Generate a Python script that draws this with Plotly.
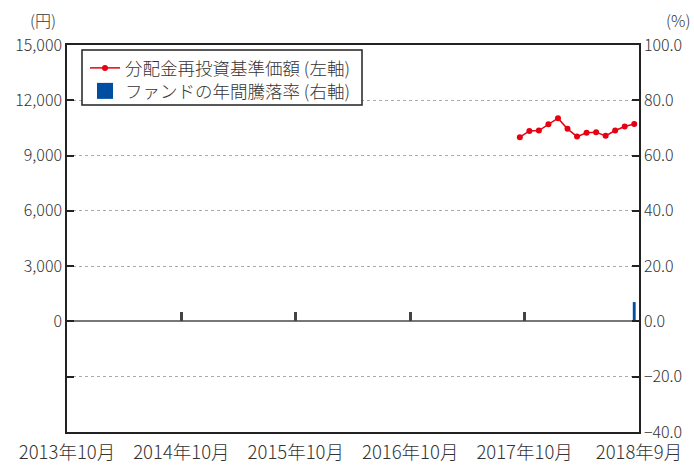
import plotly.graph_objects as go

# Full monthly axis: 2013年10月 .. 2018年9月 (60 months)
months = []
y, m = 2013, 10
for _ in range(60):
    months.append(f"{y}年{m}月")
    m += 1
    if m > 12:
        m = 1
        y += 1

tick_labels = ["2013年10月", "2014年10月", "2015年10月", "2016年10月", "2017年10月", "2018年9月"]

nav_months = ["2017年9月", "2017年10月", "2017年11月", "2017年12月", "2018年1月", "2018年2月",
              "2018年3月", "2018年4月", "2018年5月", "2018年6月", "2018年7月", "2018年8月", "2018年9月"]
nav_values = [10000, 10340, 10360, 10700, 11030, 10450, 10030, 10240, 10270, 10070, 10360, 10580, 10710]

ret_months = ["2018年9月"]
ret_values = [7.0]

nav_x = [months.index(mm) + 0.5 for mm in nav_months]
ret_x = [months.index(mm) + 0.5 for mm in ret_months]

FONT = "Noto Sans CJK JP, Noto Sans, sans-serif"
TXT = "#333333"
RED = "#e60012"
BLUE = "#004ea2"

fig = go.Figure()
fig.add_trace(go.Scatter(
    x=nav_x, y=nav_values, mode="lines+markers", name="分配金再投資基準価額 (左軸)",
    line=dict(color=RED, width=1.5), marker=dict(color=RED, size=6),
    xaxis="x", yaxis="y", legend="legend"))
fig.add_trace(go.Bar(
    x=ret_x, y=ret_values, name="ファンドの年間騰落率 (右軸)", showlegend=False,
    marker=dict(color=BLUE, line=dict(width=0)), width=0.3,
    xaxis="x2", yaxis="y2"))
# legend proxy (no data) so the legend swatch is a large square like the reference
fig.add_trace(go.Scatter(
    x=[None], y=[None], mode="markers", name="ファンドの年間騰落率 (右軸)",
    marker=dict(color=BLUE, size=16, symbol="square"),
    xaxis="x2", yaxis="y2", legend="legend2"))

leg_common = dict(xanchor="left", yanchor="middle", borderwidth=0,
                  bgcolor="rgba(0,0,0,0)", itemsizing="trace",
                  font=dict(size=17.5, family=FONT, color=TXT, weight=300),
                  itemwidth=30)

fig.update_layout(
    width=694, height=465,
    margin=dict(l=67, r=55, t=45, b=33, autoexpand=False),
    paper_bgcolor="white", plot_bgcolor="white",
    font=dict(family=FONT, color=TXT, size=16, weight=300),
    showlegend=True,
    legend=dict(x=(85 - 67) / 572, y=(432 - 68) / 387, **leg_common),
    legend2=dict(x=(85 - 67) / 572, y=(432 - 91) / 387, **leg_common),
    shapes=[dict(type="rect", xref="paper", yref="paper",
                 x0=(82 - 67) / 572, x1=(362 - 67) / 572,
                 y0=(432 - 105) / 387, y1=(432 - 50) / 387,
                 line=dict(color="#222222", width=1.5), fillcolor="white",
                 layer="above")],
    xaxis=dict(range=[0, 60], tickmode="array", automargin=False,
               tickvals=[0, 12, 24, 36, 48, 60], ticktext=tick_labels,
               ticks="", showgrid=False, zeroline=False, ticklabelstandoff=3,
               showline=True, mirror=True, linecolor="#222222", linewidth=1.5,
               tickfont=dict(size=18.5, weight=300)),
    xaxis2=dict(range=[0, 60], overlaying="x", anchor="free", position=6000 / 21000,
                tickmode="array", tickvals=[12, 24, 36, 48], automargin=False,
                ticks="inside", ticklen=9, tickwidth=3, tickcolor="#444444",
                showticklabels=False, showgrid=False, zeroline=False, showline=False),
    yaxis=dict(range=[-6000, 15000], tickmode="array", automargin=False,
               tickvals=[-3000, 0, 3000, 6000, 9000, 12000, 15000],
               ticktext=["", "0", "3,000", "6,000", "9,000", "12,000", "15,000"],
               ticks="inside", ticklen=7, tickwidth=1.5, tickcolor="#222222",
               showgrid=True, gridcolor="#aaaaaa", griddash="dot", gridwidth=1,
               zeroline=True, zerolinecolor="#777777", zerolinewidth=2,
               showline=True, linecolor="#222222", linewidth=1.5),
    yaxis2=dict(range=[-40, 100], overlaying="y", side="right", anchor="x",
                tickmode="array", tickvals=[-40, -20, 0, 20, 40, 60, 80, 100],
                automargin=False,
                tickformat=".1f", ticks="inside", ticklen=7, tickwidth=1.5,
                tickcolor="#222222", showgrid=False, zeroline=False,
                showline=True, linecolor="#222222", linewidth=1.5),
    annotations=[
        dict(text="(円)", xref="paper", yref="paper", x=0, y=1, xanchor="right",
             yanchor="middle", xshift=-9, yshift=25, showarrow=False,
             font=dict(size=16, family=FONT, color=TXT, weight=300)),
        dict(text="(%)", xref="paper", yref="paper", x=1, y=1, xanchor="left",
             yanchor="middle", xshift=25, yshift=25, showarrow=False,
             font=dict(size=16, family=FONT, color=TXT, weight=300)),
    ],
)

fig.write_html("out.html", config={"displayModeBar": False},
               post_script="document.body.style.margin='0';document.body.style.padding='0';")
